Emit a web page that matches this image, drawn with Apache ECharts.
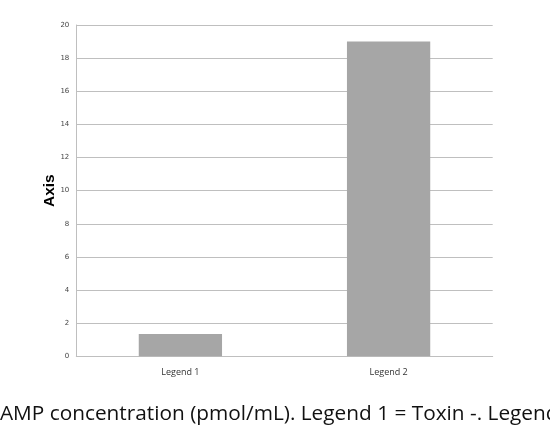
<!DOCTYPE html>
<html>
<head>
<meta charset="utf-8">
<script src="https://cdn.jsdelivr.net/npm/echarts@6/dist/echarts.min.js"></script>
<style>
html,body{margin:0;padding:0;background:#fff;overflow:hidden;}
#chart{width:550px;height:445px;}
</style>
</head>
<body>
<div id="chart"></div>
<script>
const categories = ['Legend 1', 'Legend 2'];
const values = [1.35, 19];
const yTicks = { min: 0, max: 20, interval: 2 };
const yAxisTitle = 'Axis';
const caption = 'cAMP concentration (pmol/mL). Legend 1 = Toxin -. Legend 2 = Toxin +.';

const chart = echarts.init(document.getElementById('chart'), null, { renderer: 'canvas' });
chart.setOption({
  animation: false,
  backgroundColor: '#ffffff',
  grid: { left: 76.3, right: 57.3, top: 25, bottom: 88.7, containLabel: false },
  xAxis: {
    type: 'category',
    data: categories,
    axisLine: { show: true, lineStyle: { color: '#bfbfbf', width: 1 } },
    axisTick: { show: false },
    axisLabel: { color: '#333', fontSize: 9, fontFamily: 'Open Sans', margin: 12 }
  },
  yAxis: {
    type: 'value',
    min: yTicks.min, max: yTicks.max, interval: yTicks.interval,
    name: yAxisTitle,
    nameLocation: 'middle',
    nameRotate: 90,
    nameGap: 19,
    nameMoveOverlap: false,
    nameTextStyle: { fontFamily: 'Liberation Sans', fontWeight: 'bold', fontSize: 15.5, color: '#000' },
    axisLine: { show: true, lineStyle: { color: '#bfbfbf', width: 1 } },
    axisTick: { show: false },
    axisLabel: { color: '#444', fontSize: 7, fontFamily: 'DejaVu Sans', margin: 7 },
    splitLine: { show: true, lineStyle: { color: '#bfbfbf', width: 1 } }
  },
  series: [{
    type: 'bar',
    data: values,
    barWidth: '40%',
    itemStyle: { color: '#a6a6a6' }
  }],
  graphic: [{
    type: 'text',
    left: -10,
    top: 404,
    style: { text: caption, font: '20.8px "Open Sans"', fill: '#111' }
  }]
});
</script>
</body>
</html>
